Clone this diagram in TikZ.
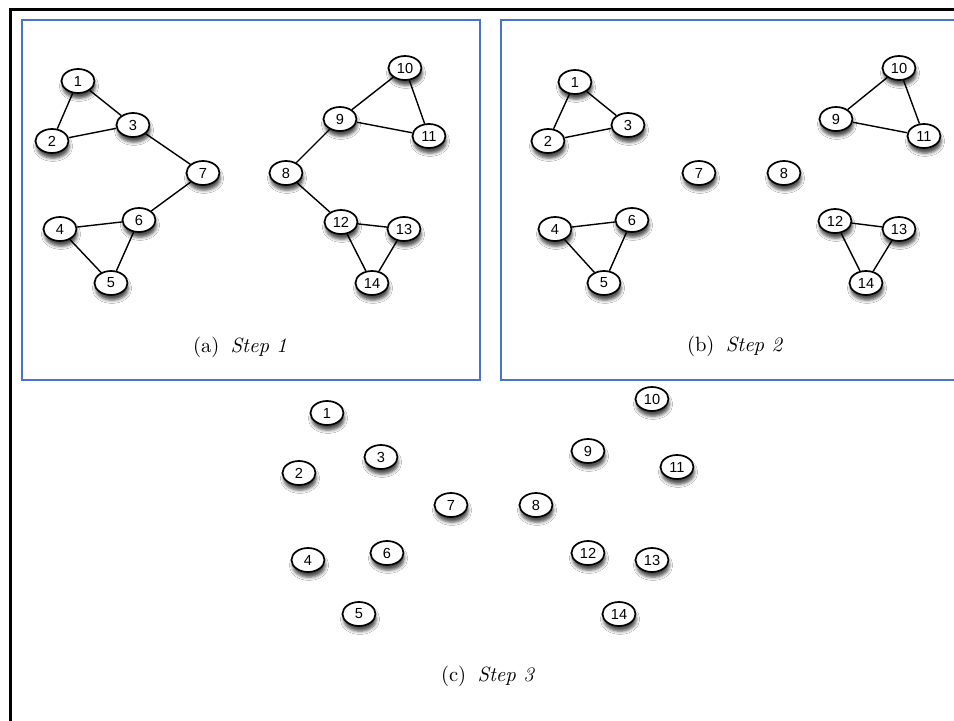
\documentclass[tikz,border=0pt]{standalone}
\usepackage{fontspec}
\newfontfamily\nodefont{Liberation Sans}
\usetikzlibrary{shapes.geometric,shadows.blur}
\definecolor{boxblue}{RGB}{75,115,205}
\tikzset{
  nd/.style={ellipse, draw=black, line width=0.85pt, fill=white,
    minimum width=16.5pt, minimum height=12pt, inner sep=0pt,
    font=\nodefont\fontsize{7.3}{8}\selectfont,
    blur shadow={shadow xshift=0.5pt, shadow yshift=-2.6pt, shadow blur radius=1.6pt, shadow opacity=70}},
  lnk/.style={line width=0.7pt, black},
  panel/.style={draw=boxblue, line width=0.7pt},
  frameline/.style={draw=black, line width=1.5pt},
  captext/.style={font=\fontsize{10.3}{12}\selectfont, inner sep=0pt}
}
\begin{document}
\begin{tikzpicture}[x=0.5pt,y=-0.5pt]
\clip (0,0) rectangle (954,721);
\fill[white] (0,0) rectangle (954,721);
% outer black frame
\draw[frameline] (10,730) -- (10,10) -- (965,10);
% panels
\draw[panel] (22,20) rectangle (480,380);
\draw[panel] (501,20) rectangle (965,380);
% panel (a)
\foreach \n/\x/\y in {1/78/81,2/52/141,3/133/125,7/203/173,6/139/220,4/60/229,5/111/283,
  8/286/173,9/340/119,10/405/68,11/429/136,12/341/222,13/404/229,14/372/283}
  \node[nd] (a\n) at (\x,\y) {\n};
% panel (b)
\foreach \n/\x/\y in {1/575/82,2/548/141,3/628/125,7/699/173,8/784/173,4/555/229,6/632/220,5/604/283,
  9/836/119,10/899/68,11/924/136,12/835/221,13/899/229,14/866/283}
  \node[nd] (b\n) at (\x,\y) {\n};
% panel (c)
\foreach \n/\x/\y in {1/327/413,3/381/457,2/299/473,7/451/505,8/536/505,4/308/560,6/387/553,5/359/614,
  10/652/399,9/588/451,11/677/467,12/588/553,13/652/560,14/619/614}
  \node[nd] (c\n) at (\x,\y) {\n};
% edges (a)
\foreach \u/\v in {1/2,1/3,2/3,3/7,7/6,4/6,4/5,5/6,8/9,9/10,10/11,9/11,8/12,12/13,12/14,13/14}
  \draw[lnk] (a\u) -- (a\v);
% edges (b)
\foreach \u/\v in {1/2,1/3,2/3,4/6,4/5,5/6,9/10,10/11,9/11,12/13,12/14,13/14}
  \draw[lnk] (b\u) -- (b\v);
% captions
\node[captext] (capa) at (240,347) {(a)\hspace{0.55em}\textit{Step 1}};
\node[captext] (capb) at (735,346) {(b)\hspace{0.55em}\textit{Step 2}};
\node[captext] (capc) at (488,676) {(c)\hspace{0.55em}\textit{Step 3}};
\end{tikzpicture}
\end{document}
